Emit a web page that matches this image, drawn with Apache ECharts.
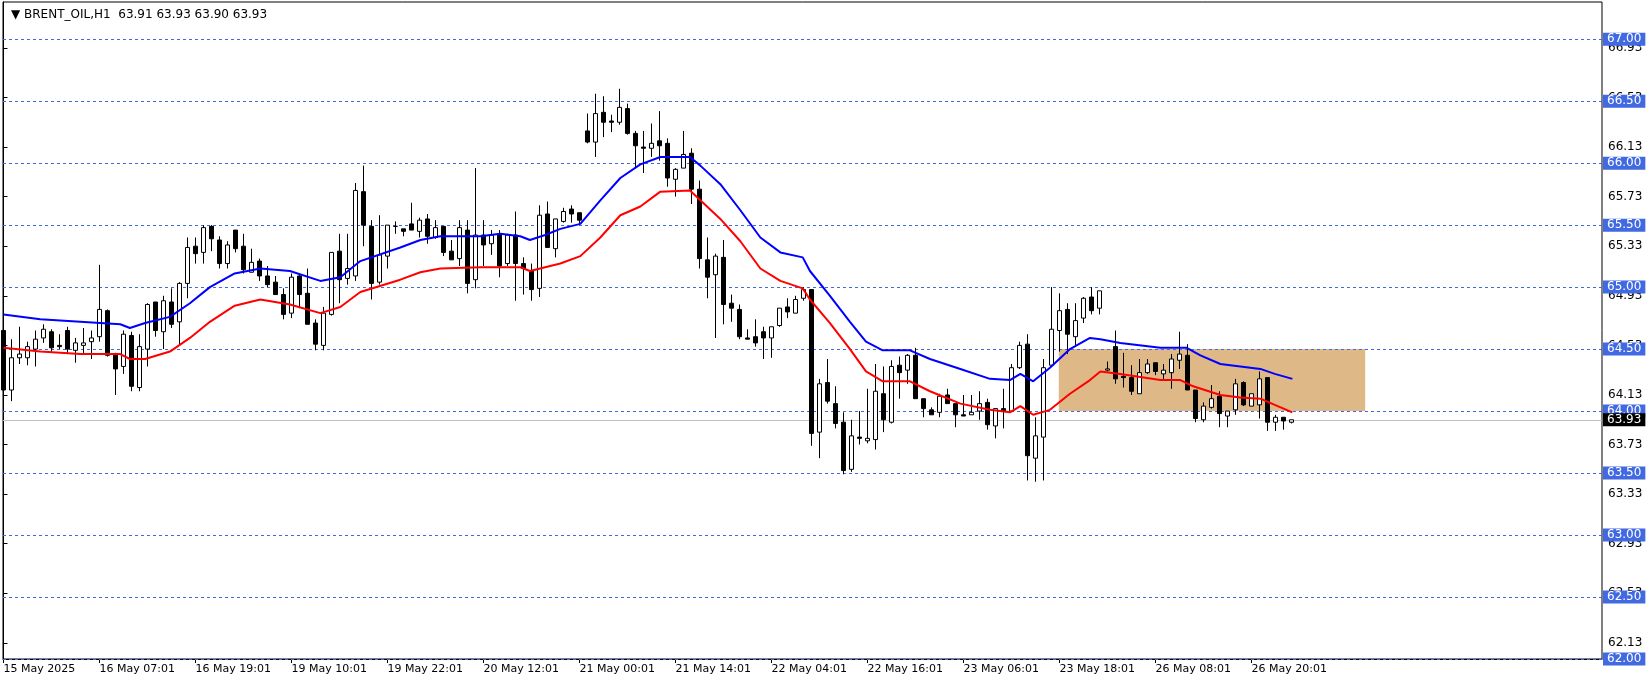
<!DOCTYPE html>
<html><head><meta charset="utf-8">
<script src="https://cdn.jsdelivr.net/npm/echarts@6/dist/echarts.min.js"></script>
<style>html,body{margin:0;padding:0;background:#fff}#c{width:1651px;height:682px}</style>
</head><body><div id="c"></div>
<script>
// [open, close, low, high] per hourly bar, bar index = position
const candles = [
[64.65,64.17,64.09,64.75],[64.17,64.43,64.08,64.58],[64.43,64.46,64.38,64.68],[64.43,64.52,64.37,64.56],[64.50,64.58,64.36,64.65],
[64.59,64.66,64.55,64.70],[64.64,64.51,64.48,64.66],[64.53,64.52,64.50,64.62],[64.65,64.50,64.46,64.68],[64.49,64.55,64.39,64.59],
[64.53,64.55,64.46,64.67],[64.56,64.59,64.42,64.65],[64.60,64.82,64.56,65.18],[64.81,64.45,64.44,64.82],[64.46,64.34,64.13,64.47],
[64.36,64.62,64.30,64.65],[64.61,64.20,64.16,64.64],[64.19,64.52,64.16,64.62],[64.50,64.86,64.36,64.87],[64.88,64.65,64.60,64.88],
[64.64,64.89,64.50,64.93],[64.88,64.70,64.67,64.99],[64.72,65.03,64.53,65.04],[65.03,65.32,64.91,65.40],[65.33,65.27,65.19,65.40],
[65.28,65.48,65.19,65.50],[65.49,65.39,65.29,65.50],[65.38,65.19,65.15,65.41],[65.19,65.34,65.15,65.37],[65.46,65.31,65.28,65.46],
[65.33,65.14,65.11,65.43],[65.12,65.20,65.12,65.31],[65.21,65.09,65.05,65.23],[65.09,65.02,65.00,65.17],[65.04,64.94,64.94,65.09],
[64.94,64.78,64.74,64.99],[64.79,65.08,64.75,65.11],[65.09,64.94,64.83,65.11],[64.95,64.70,64.70,65.15],[64.71,64.54,64.49,64.74],
[64.53,64.79,64.49,64.84],[64.78,65.28,64.77,65.28],[65.29,65.06,64.87,65.43],[65.07,65.15,65.02,65.43],[65.09,65.78,65.05,65.84],
[65.77,65.50,65.33,65.98],[65.49,65.03,64.90,65.54],[65.04,65.26,65.02,65.58],[65.25,65.50,65.15,65.50],[65.49,65.49,65.43,65.53],
[65.47,65.45,65.41,65.47],[65.51,65.46,65.46,65.68],[65.45,65.54,65.40,65.56],[65.55,65.41,65.35,65.59],[65.40,65.48,65.39,65.54],
[65.49,65.28,65.25,65.49],[65.29,65.22,65.22,65.38],[65.23,65.48,65.17,65.54],[65.46,65.03,64.95,65.54],[65.06,65.42,64.99,65.96],
[65.42,65.34,65.17,65.54],[65.35,65.42,65.26,65.46],[65.43,65.17,65.08,65.46],[65.19,65.42,65.17,65.43],[65.42,65.19,64.89,65.61],
[65.19,65.15,64.94,65.24],[65.13,64.98,64.89,65.19],[64.99,65.58,64.92,65.66],[65.59,65.32,65.32,65.69],[65.31,65.55,65.24,65.55],
[65.53,65.61,65.52,65.64],[65.63,65.59,65.52,65.66],[65.60,65.54,65.51,65.60],[66.26,66.17,66.16,66.40],[66.17,66.40,66.05,66.56],
[66.41,66.33,66.21,66.54],[66.34,66.33,66.25,66.39],[66.33,66.45,66.31,66.60],[66.44,66.24,66.23,66.48],[66.24,66.14,65.96,66.26],
[66.13,66.12,65.92,66.26],[66.12,66.16,66.05,66.32],[66.18,66.14,66.02,66.42],[66.16,65.88,65.81,66.20],[65.87,65.95,65.73,65.96],
[65.96,66.07,65.96,66.26],[66.08,65.79,65.67,66.12],[65.79,65.23,65.15,65.86],[65.22,65.08,64.91,65.40],[65.10,65.25,64.59,65.27],
[65.24,64.86,64.70,65.38],[64.87,64.83,64.72,64.94],[64.82,64.60,64.58,64.86],[64.59,64.58,64.58,64.66],[64.60,64.55,64.52,64.74],
[64.64,64.59,64.42,64.68],[64.59,64.68,64.43,64.68],[64.69,64.83,64.68,64.83],[64.84,64.80,64.75,64.91],[64.79,64.90,64.79,64.93],
[64.91,64.98,64.89,65.00],[64.98,63.82,63.72,64.98],[63.83,64.22,63.62,64.26],[64.23,64.08,64.06,64.42],[64.06,63.90,63.86,64.20],
[63.91,63.52,63.49,63.99],[63.53,63.80,63.51,63.93],[63.79,63.78,63.73,64.00],[63.76,63.78,63.74,64.18],[63.77,64.16,63.69,64.38],
[64.14,63.93,63.83,64.36],[63.91,64.36,63.90,64.41],[64.37,64.31,64.10,64.44],[64.33,64.45,64.22,64.46],[64.45,64.10,64.10,64.51],
[64.10,64.02,63.95,64.10],[64.01,63.97,63.97,64.03],[63.99,64.12,63.95,64.14],[64.13,64.06,64.06,64.18],[64.06,63.97,63.87,64.06],
[63.97,63.96,63.96,64.13],[63.97,63.99,63.97,64.13],[64.00,64.06,63.93,64.16],[64.07,63.89,63.85,64.10],[63.88,64.02,63.78,64.02],
[64.02,64.00,63.86,64.18],[64.00,64.35,64.00,64.38],[64.35,64.53,64.34,64.56],[64.54,63.64,63.44,64.62],[63.62,63.80,63.43,63.95],
[63.79,64.35,63.44,64.42],[64.37,64.66,64.37,65.00],[64.65,64.81,64.48,64.95],[64.82,64.62,64.46,64.87],[64.60,64.73,64.53,64.87],
[64.75,64.91,64.71,64.92],[64.92,64.81,64.78,65.00],[64.83,64.97,64.78,64.97],[64.33,64.34,64.32,64.40],[64.52,64.26,64.22,64.65],
[64.28,64.27,64.19,64.47],[64.27,64.16,64.13,64.37],[64.14,64.31,64.14,64.42],[64.31,64.38,64.30,64.42],[64.39,64.32,64.29,64.39],
[64.30,64.33,64.25,64.38],[64.31,64.42,64.18,64.46],[64.41,64.46,64.34,64.64],[64.45,64.17,64.17,64.54],[64.17,63.94,63.91,64.17],
[63.93,64.04,63.91,64.07],[64.03,64.10,64.02,64.21],[64.12,63.98,63.87,64.16],[63.96,64.00,63.87,64.00],[64.01,64.22,63.97,64.26],
[64.23,64.05,64.04,64.24],[64.04,64.14,64.04,64.14],[64.05,64.26,63.94,64.32],[64.27,63.91,63.84,64.27],[63.91,63.95,63.84,63.97],
[63.95,63.92,63.85,63.95],[63.91,63.93,63.90,63.93]
];
// moving-average lines: [bar position, price]
const blueMA = [[0,64.78],[4.6,64.74],[9.6,64.72],[14.6,64.70],[15.8,64.67],[17.7,64.71],[20.8,64.76],[23.3,64.87],[25.8,65.00],[28.9,65.11],[32.1,65.15],[35.8,65.13],[39.6,65.05],[42.1,65.08],[44.6,65.21],[49.6,65.32],[52.1,65.38],[54.6,65.41],[59.6,65.41],[62.1,65.43],[64.6,65.41],[65.8,65.38],[67.7,65.42],[69.6,65.47],[72.1,65.51],[74.6,65.70],[77.1,65.88],[79.6,65.99],[82.1,66.05],[85.8,66.05],[87.1,65.98],[89.6,65.83],[92.1,65.62],[94.6,65.40],[97.1,65.28],[99.9,65.24],[100.8,65.13],[103.3,64.93],[105.8,64.72],[107.8,64.56],[109.9,64.49],[113.3,64.49],[115.8,64.42],[119.6,64.34],[123.3,64.26],[125.8,64.25],[127.1,64.30],[128.7,64.24],[130.8,64.35],[133.3,64.50],[135.8,64.59],[137.1,64.58],[139.6,64.55],[144.6,64.51],[147.9,64.51],[149.6,64.45],[152.1,64.38],[154.6,64.36],[157.1,64.34],[158.9,64.30],[161.1,64.26]];
const redMA = [[0,64.51],[4.6,64.48],[9.6,64.46],[14.6,64.46],[15.8,64.42],[17.7,64.42],[20.8,64.48],[23.3,64.59],[25.8,64.72],[28.9,64.85],[32.1,64.90],[35.8,64.86],[39.6,64.79],[42.1,64.84],[44.6,64.96],[49.6,65.06],[52.1,65.12],[54.6,65.15],[59.6,65.16],[64.6,65.16],[65.8,65.13],[67.7,65.16],[69.6,65.19],[72.1,65.25],[74.6,65.40],[77.1,65.58],[79.6,65.65],[82.1,65.77],[85.8,65.78],[87.1,65.70],[89.6,65.55],[92.1,65.37],[94.6,65.15],[97.1,65.05],[99.9,64.99],[100.8,64.90],[103.3,64.71],[105.8,64.50],[107.8,64.32],[109.9,64.24],[113.3,64.24],[115.8,64.16],[119.6,64.06],[123.3,64.01],[125.8,63.99],[127.1,64.04],[128.7,63.97],[130.8,64.01],[133.3,64.14],[135.8,64.25],[137.1,64.32],[139.6,64.30],[144.6,64.25],[147.1,64.25],[148.7,64.20],[152.1,64.13],[154.6,64.11],[157.1,64.10],[158.9,64.05],[161.1,63.99]];
const xLabelPos = [0,12,24,36,48,60,72,84,96,108,120,132,144,156];
const xLabels = ['15 May 2025','16 May 07:01','16 May 19:01','19 May 10:01','19 May 22:01','20 May 12:01','21 May 00:01','21 May 14:01','22 May 04:01','22 May 16:01','23 May 06:01','23 May 18:01','26 May 08:01','26 May 20:01'];
const priceTicks = [62.13,62.53,62.93,63.33,63.73,64.13,64.53,64.93,65.33,65.73,66.13,66.53,66.93];
const levels = [62.0,62.5,63.0,63.5,64.0,64.5,65.0,65.5,66.0,66.5,67.0];
const lastPrice = 63.93;
const zone = {from:131.9, to:170.2, low:64.0, high:64.5};
const title = '▼ BRENT_OIL,H1  63.91 63.93 63.90 63.93';

const FONT = 'DejaVu Sans';
const chart = echarts.init(document.getElementById('c'), null, {renderer:'canvas'});
chart.setOption({
  animation:false,
  backgroundColor:'#fff',
  title:{text:title,left:6,top:4,textStyle:{fontFamily:FONT,fontSize:12,fontWeight:'normal',color:'#000'}},
  grid:{left:3,right:49,top:2,bottom:23,show:true,borderColor:'#000',borderWidth:1},
  xAxis:{type:'value',min:-0.0625,max:199.8,
    axisLine:{show:true,lineStyle:{color:'#000'}},
    splitLine:{show:false},
    axisTick:{show:true,customValues:xLabelPos,length:4,lineStyle:{color:'#000'}},
    axisLabel:{customValues:xLabelPos,align:'left',margin:5,fontFamily:FONT,fontSize:11,color:'#000',
      formatter:v=>xLabels[xLabelPos.indexOf(Math.round(v))]||''}},
  yAxis:{type:'value',position:'right',min:62,max:67.30,scale:true,
    axisLine:{show:true,lineStyle:{color:'#000'}},splitLine:{show:false},
    axisTick:{show:true,customValues:priceTicks,length:4,lineStyle:{color:'#000'}},
    axisLabel:{customValues:priceTicks,margin:6,fontFamily:FONT,fontSize:12,color:'#000',formatter:v=>v.toFixed(2)}},
  series:[
    {type:'line',data:[],z:1,silent:true,
      markArea:{silent:true,itemStyle:{color:'#DEB887',opacity:1},
        data:[[{xAxis:zone.from,yAxis:zone.high},{xAxis:zone.to,yAxis:zone.low}]]},
      markLine:{silent:true,symbol:'none',z:2,
        data:levels.map(v=>({yAxis:v,lineStyle:{color:'#4169E1',type:[3,3],width:1},
          label:{show:true,position:'end',distance:1,formatter:v.toFixed(2),backgroundColor:'#4169E1',color:'#fff',padding:[1,4,0,4],fontFamily:FONT,fontSize:12}}))
          .concat([{yAxis:lastPrice,lineStyle:{color:'#c0c0c0',type:'solid',width:1},
          label:{show:true,position:'end',distance:1,formatter:lastPrice.toFixed(2),backgroundColor:'#000',color:'#fff',padding:[1,4,0,4],fontFamily:FONT,fontSize:12}}])}},
    {type:'candlestick',z:5,barWidth:5,
      data:candles.map((c,i)=>[i,c[0],c[1],c[2],c[3]]),
      encode:{x:0,y:[1,2,3,4]},
      itemStyle:{color:'#fff',color0:'#000',borderColor:'#000',borderColor0:'#000',borderWidth:1}},
    {type:'line',z:6,data:blueMA,showSymbol:false,lineStyle:{color:'#0000ff',width:2}},
    {type:'line',z:6,data:redMA,showSymbol:false,lineStyle:{color:'#ff0000',width:2}}
  ]
});
</script></body></html>
